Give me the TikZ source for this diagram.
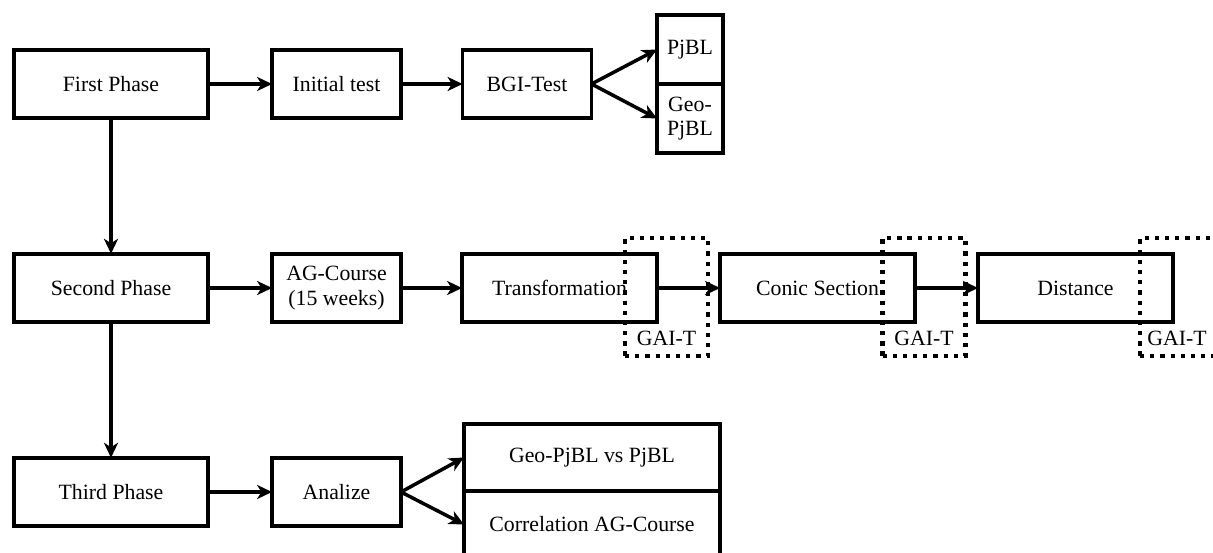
\documentclass[tikz,border=0pt]{standalone}
\usepackage{fontspec}
\setmainfont{LiberationSerif}[Extension=.ttf, UprightFont=*-Regular, BoldFont=*-Bold]
\usetikzlibrary{positioning,arrows.meta}
\tikzset{
 b/.style
  = {rectangle, draw, line width=2pt, minimum height=1.37cm, align=center,
     inner sep=0pt, outer sep=0pt, font=\rmfamily\fontsize{12.4}{14}\selectfont},
 w/.style
  = {b, minimum width=3.88cm},
 s/.style
  = {b, minimum width=2.58cm},
 t/.style
  = {b, minimum width=3.9cm},
 p/.style
  = {b, minimum width=1.32cm, minimum height=1.38cm},
 r/.style
  = {b, minimum width=5.12cm, minimum height=1.34cm},
 g/.style
  = {draw, line width=2.4pt, dash pattern=on 2.4pt off 3.4pt,
     minimum width=1.66cm, minimum height=2.36cm, inner sep=0pt},
 gt/.style
  = {font=\rmfamily\fontsize{12.4}{14}\selectfont, inner sep=0pt},
 l/.style
  = {draw, -{Stealth[length=8.5pt, width=8pt, inset=2.5pt]}, line width=2pt},
}

\begin{document}
\begin{tikzpicture}[x=0.02cm, y=-0.02cm]
\useasboundingbox (0,0) rectangle (1213,553);

% First row
\node[w] (first) at (111,84) {First Phase};
\node[s] (init) at (336.5,84) {Initial test};
\node[s] (bgi) at (527,84) {BGI-Test};
\node[p] (pjbl) at (690,49.5) {PjBL};
\node[p, below=0pt of pjbl] (geo) {Geo-\\PjBL};

% Second row
\node[w] (second) at (111,288) {Second Phase};
\node[s] (agc) at (336.5,288) {AG-Course\\(15 weeks)};
\node[t] (trans) at (559.5,288) {Transformation};
\node[t] (conic) at (817.5,288) {Conic Section};
\node[t] (dist) at (1075.5,288) {Distance};

% GAI-T boxes
\node[g] (gai1) at (666.5,297) {};
\node[g] (gai2) at (924,297) {};
\node[g] (gai3) at (1181.5,297) {};
\node[gt] (gl1) at (666.5,338) {GAI-T};
\node[gt] (gl2) at (924,338) {GAI-T};
\node[gt] (gl3) at (1177,338) {GAI-T};

% Third row
\node[w] (third) at (111,492) {Third Phase};
\node[s] (ana) at (336.5,492) {Analize};
\node[r] (vs) at (592,457.5) {Geo-PjBL vs PjBL};
\node[r, below=0pt of vs] (corr) {Correlation AG-Course};

% Arrows
\path[l] (first) -- (init);
\path[l] (init) -- (bgi);
\path[l] (bgi.east) -- (pjbl.west);
\path[l] (bgi.east) -- (geo.west);
\path[l] (first) -- (second);
\path[l] (second) -- (agc);
\path[l] (agc) -- (trans);
\path[l] (trans) -- (conic);
\path[l] (conic) -- (dist);
\path[l] (second) -- (third);
\path[l] (third) -- (ana);
\path[l] (ana.east) -- (vs.west);
\path[l] (ana.east) -- (corr.west);

\end{tikzpicture}
\end{document}
